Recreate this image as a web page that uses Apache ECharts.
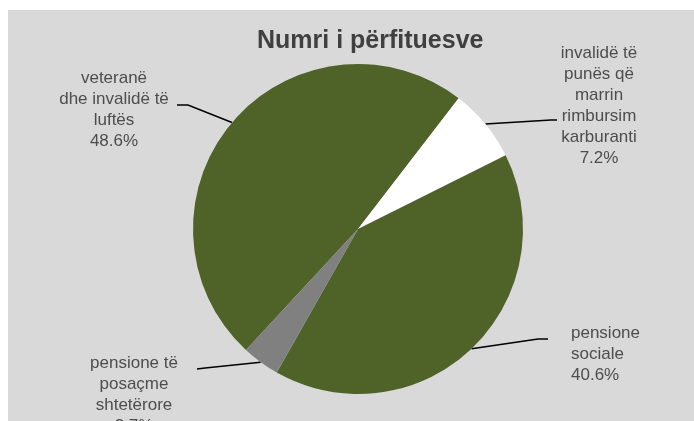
<!DOCTYPE html>
<html>
<head>
<meta charset="utf-8">
<title>Numri i përfituesve</title>
<script src="https://cdn.jsdelivr.net/npm/echarts@6/dist/echarts.min.js"></script>
<style>
  html, body { margin: 0; padding: 0; background: #fff; }
  #chart { width: 694px; height: 421px; }
</style>
</head>
<body>
<div id="chart"></div>
<script>
// category names (line breaks as in the original labels)
const categories = [
  'veteranë\ndhe invalidë të\nluftës',
  'invalidë të\npunës që\nmarrin\nrimbursim\nkarburanti',
  'pensione\nsociale',
  'pensione të\nposaçme\nshtetërore'
]
// share of beneficiaries, %
const shares = [48.6, 7.2, 40.6, 3.7]
const sliceColors = ['#4F6228', '#FFFFFF', '#4F6228', '#808080']

// where Excel had the labels dragged to (label anchor, elbow, line end)
const labelSpots = [
  { x: 114, y: 68, align: 'center', elbow: [188, 105], end: [177, 105] },
  { x: 599, y: 43, align: 'center', elbow: [551, 120], end: [557, 120] },
  { x: 571, y: 323, align: 'left', elbow: [538, 339], end: [548, 339] },
  { x: 134, y: 353, align: 'center', elbow: [205, 368], end: [197, 369] }
]

const chart = echarts.init(document.getElementById('chart'))

const option = {
  backgroundColor: '#FFFFFF',
  animation: false,
  graphic: [
    {
      type: 'rect',
      z: -10,
      silent: true,
      shape: { x: 8, y: 10, width: 686, height: 411 },
      style: { fill: '#D9D9D9' }
    }
  ],
  title: {
    text: 'Numri i përfituesve',
    left: 252,
    top: 24,
    textStyle: {
      fontFamily: 'Liberation Sans',
      fontSize: 25,
      fontWeight: 'bold',
      color: '#404040'
    }
  },
  series: [
    {
      type: 'pie',
      center: [358, 229],
      radius: 165,
      startAngle: 227.2,
      clockwise: true,
      avoidLabelOverlap: false,
      data: categories.map((name, i) => ({
        name: name,
        value: shares[i],
        itemStyle: { color: sliceColors[i] }
      })),
      label: {
        show: true,
        position: 'outside',
        formatter: '{b}\n{c}%',
        fontFamily: 'Liberation Sans',
        fontSize: 17,
        lineHeight: 21,
        color: '#4D4D4D'
      },
      labelLine: {
        show: true,
        length: 10,
        length2: 10,
        lineStyle: { color: '#000000', width: 1.5 }
      },
      labelLayout: function (params) {
        const spot = labelSpots[params.dataIndex]
        const start = params.labelLinePoints ? params.labelLinePoints[0] : spot.elbow
        return {
          x: spot.x,
          y: spot.y,
          align: spot.align,
          verticalAlign: 'top',
          labelLinePoints: [start, spot.elbow, spot.end]
        }
      },
      emphasis: { disabled: true }
    }
  ]
}

chart.setOption(option)
</script>
</body>
</html>
